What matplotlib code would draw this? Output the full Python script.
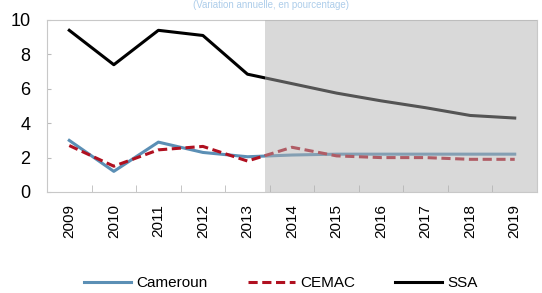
import matplotlib
matplotlib.use("Agg")
import matplotlib.pyplot as plt
from matplotlib.patches import Rectangle

years = ["2009", "2010", "2011", "2012", "2013", "2014", "2015", "2016", "2017", "2018", "2019"]
cameroun = [3.0, 1.2, 2.9, 2.3, 2.05, 2.15, 2.2, 2.2, 2.2, 2.2, 2.2]
cemac = [2.7, 1.5, 2.45, 2.65, 1.8, 2.6, 2.1, 2.0, 2.0, 1.9, 1.9]
ssa = [9.4, 7.4, 9.4, 9.1, 6.85, 6.3, 5.75, 5.3, 4.9, 4.45, 4.3]

plt.rcParams["font.family"] = ["Liberation Sans", "DejaVu Sans"]

fig = plt.figure(figsize=(5.42, 2.93), dpi=100)
ax = fig.add_axes([47/542, 1 - 192/293, 490/542, 172/293])

x = list(range(len(years)))
ax.plot(x, cameroun, color="#5b8fb5", lw=2.2, label="Cameroun", zorder=3)
ax.plot(x, cemac, color="#b01020", lw=2.2, ls=(0, (3, 1.5)), label="CEMAC", zorder=4)
ax.plot(x, ssa, color="black", lw=2.2, label="SSA", zorder=5)

# projection shading drawn over the lines
ax.add_patch(Rectangle((4.4, 0), 10.5 - 4.4, 10, facecolor="#b1b1b1", alpha=0.48,
                       edgecolor="none", zorder=6))

ax.set_xlim(-0.5, 10.5)
ax.set_ylim(0, 10)
ax.set_yticks([0, 2, 4, 6, 8, 10])
ax.set_xticks(x)
ax.set_xticklabels(years, rotation=90, fontsize=11)
ax.set_xticks([i + 0.5 for i in x[:-1]], minor=True)
ax.tick_params(axis="x", which="major", length=0, pad=9)
ax.tick_params(axis="x", which="minor", direction="in", length=5, color="#bbbbbb")
ax.tick_params(axis="y", direction="in", length=3, color="#bbbbbb", labelsize=13, pad=12)
for s in ax.spines.values():
    s.set_color("#c8c8c8")

fig.text(0.5, 0.999, "(Variation annuelle, en pourcentage)", color="#5b9bd5",
         ha="center", va="top", fontsize=7, alpha=0.5)

fig.legend(loc="center", ncol=3, frameon=False, fontsize=11,
           bbox_to_anchor=(281/542, 1 - 283/293), handlelength=3.1,
           handletextpad=0.35, columnspacing=2.6, borderpad=0)

fig.savefig("out.png", dpi=100)
